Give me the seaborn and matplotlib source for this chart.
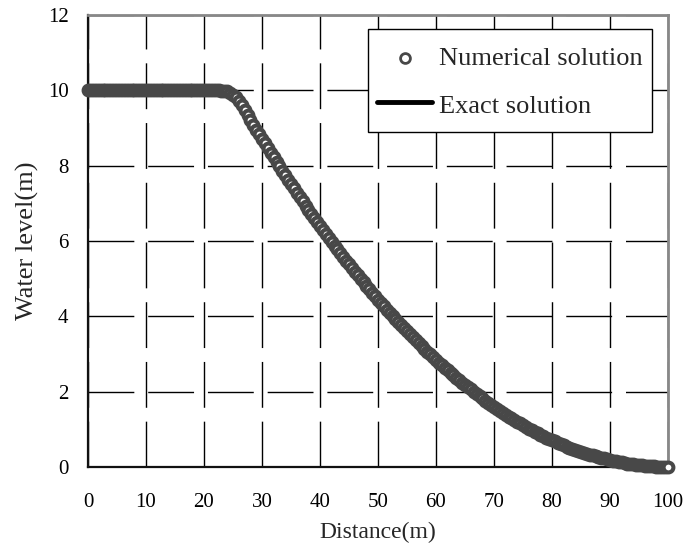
import matplotlib
matplotlib.use("Agg")
import matplotlib.pyplot as plt
import seaborn as sns
import pandas as pd

# Dam-break water surface profile along the channel
distance = [i * 0.5 for i in range(201)]

numerical_level = [
    10.00, 10.00, 10.00, 10.00, 10.00, 10.00, 10.00, 10.00, 10.00, 10.00,   # 0 - 4.5
    10.00, 10.00, 10.00, 10.00, 10.00, 10.00, 10.00, 10.00, 10.00, 10.00,   # 5 - 9.5
    10.00, 10.00, 10.00, 10.00, 10.00, 10.00, 10.00, 10.00, 10.00, 10.00,   # 10 - 14.5
    10.00, 10.00, 10.00, 10.00, 10.00, 10.00, 10.00, 10.00, 10.00, 10.00,   # 15 - 19.5
    10.00, 10.00, 10.00, 10.00, 10.00, 10.00, 9.99, 9.99, 9.97, 9.94,       # 20 - 24.5
    9.88, 9.82, 9.72, 9.60, 9.47, 9.34, 9.22, 9.09, 8.96, 8.84,             # 25 - 29.5
    8.71, 8.59, 8.46, 8.34, 8.22, 8.10, 7.98, 7.86, 7.74, 7.63,             # 30 - 34.5
    7.51, 7.40, 7.28, 7.17, 7.06, 6.94, 6.83, 6.72, 6.62, 6.51,             # 35 - 39.5
    6.40, 6.29, 6.19, 6.08, 5.98, 5.88, 5.78, 5.68, 5.58, 5.48,             # 40 - 44.5
    5.38, 5.28, 5.18, 5.09, 4.99, 4.90, 4.81, 4.72, 4.62, 4.53,             # 45 - 49.5
    4.44, 4.36, 4.27, 4.18, 4.10, 4.01, 3.93, 3.84, 3.76, 3.68,             # 50 - 54.5
    3.60, 3.52, 3.44, 3.36, 3.29, 3.21, 3.14, 3.06, 2.99, 2.92,             # 55 - 59.5
    2.84, 2.77, 2.70, 2.64, 2.57, 2.50, 2.43, 2.37, 2.30, 2.24,             # 60 - 64.5
    2.18, 2.12, 2.06, 2.00, 1.94, 1.88, 1.82, 1.76, 1.71, 1.65,             # 65 - 69.5
    1.60, 1.55, 1.50, 1.44, 1.39, 1.34, 1.30, 1.25, 1.20, 1.16,             # 70 - 74.5
    1.11, 1.07, 1.02, 0.98, 0.94, 0.90, 0.86, 0.82, 0.78, 0.75,             # 75 - 79.5
    0.71, 0.68, 0.64, 0.61, 0.58, 0.54, 0.51, 0.48, 0.46, 0.43,             # 80 - 84.5
    0.40, 0.37, 0.35, 0.33, 0.31, 0.29, 0.27, 0.25, 0.23, 0.21,             # 85 - 89.5
    0.19, 0.17, 0.15, 0.14, 0.12, 0.11, 0.09, 0.08, 0.07, 0.06,             # 90 - 94.5
    0.05, 0.04, 0.03, 0.03, 0.02, 0.02, 0.01, 0.01, 0.01, 0.00,             # 95 - 99.5
    0.00,                                                                   # 100
]

exact_distance = [0, 10, 20, 25, 27.5, 30, 32.5, 35, 37.5, 40, 42.5, 45, 47.5,
                  50, 52.5, 55, 57.5, 60, 62.5, 65, 67.5, 70, 72.5, 75, 77.5,
                  80, 82.5, 85, 87.5, 90, 92.5, 95, 97.5, 100]
exact_level = [10.00, 10.00, 10.00, 10.00, 9.34, 8.71, 8.10, 7.51, 6.94, 6.40,
               5.88, 5.38, 4.90, 4.44, 4.01, 3.60, 3.21, 2.84, 2.50, 2.18, 1.88,
               1.60, 1.34, 1.11, 0.90, 0.71, 0.54, 0.40, 0.28, 0.18, 0.10, 0.04,
               0.01, 0.00]

x_ticks = [0, 10, 20, 30, 40, 50, 60, 70, 80, 90, 100]
y_ticks = [0, 2, 4, 6, 8, 10, 12]

num_df = pd.DataFrame({"Distance": distance, "Level": numerical_level})
exact_df = pd.DataFrame({"Distance": exact_distance, "Level": exact_level})

sns.set_theme(style="white")
plt.rcParams["font.family"] = ["Liberation Serif", "DejaVu Serif"]

W, H = 685, 549
fig = plt.figure(figsize=(W / 100, H / 100), dpi=100)
left, right, top, bottom = 88, 668, 15, 467
ax = fig.add_axes([left / W, 1 - bottom / H, (right - left) / W, (bottom - top) / H])

sns.lineplot(data=exact_df, x="Distance", y="Level", ax=ax, color="black",
             linewidth=3.5, label="Exact solution", zorder=2)
sns.scatterplot(data=num_df, x="Distance", y="Level", ax=ax, marker="o",
                s=50, facecolor="white", edgecolor="#484848", linewidth=2.9,
                label="Numerical solution", zorder=3, clip_on=False)

ax.set_xlim(0, 100)
ax.set_ylim(0, 12)
ax.set_xticks(x_ticks)
ax.set_yticks(y_ticks)
ax.tick_params(axis="both", length=0, labelsize=15, colors="black")
ax.tick_params(axis="x", pad=19)
ax.tick_params(axis="y", pad=14)

grid_style = dict(color="black", linewidth=1.0, linestyle=(0, (33, 10)))
ax.grid(True, **grid_style)
ax.set_axisbelow(True)

for side in ("left", "bottom"):
    ax.spines[side].set_color("#111111")
    ax.spines[side].set_linewidth(1.6)
for side in ("top", "right"):
    ax.spines[side].set_color("#888888")
    ax.spines[side].set_linewidth(2.0)

ax.set_xlabel("Distance(m)", fontsize=17, labelpad=7)
ax.set_ylabel("Water level(m)", fontsize=19, labelpad=6)

handles, labels = ax.get_legend_handles_labels()
order = [labels.index("Numerical solution"), labels.index("Exact solution")]
leg = ax.legend([handles[i] for i in order], [labels[i] for i in order],
                loc="upper right", bbox_to_anchor=(0.9724, 0.969),
                fontsize=19, frameon=True, fancybox=False, framealpha=1,
                edgecolor="black", borderpad=0.35, labelspacing=0.37,
                handleheight=1.8, handlelength=2.08, handletextpad=0.27,
                markerscale=1.0, borderaxespad=0)
leg.get_frame().set_linewidth(1.0)
leg.set_zorder(5)

# centre the legend keys on their text rows
marker_key, line_key = leg.legend_handles
marker_key.set_linewidth(2.0)
marker_key.set_offsets(marker_key.get_offsets() + [0, -5.0])
line_key.set_ydata([y - 2.2 for y in line_key.get_ydata()])

fig.savefig("out.png", dpi=100)
